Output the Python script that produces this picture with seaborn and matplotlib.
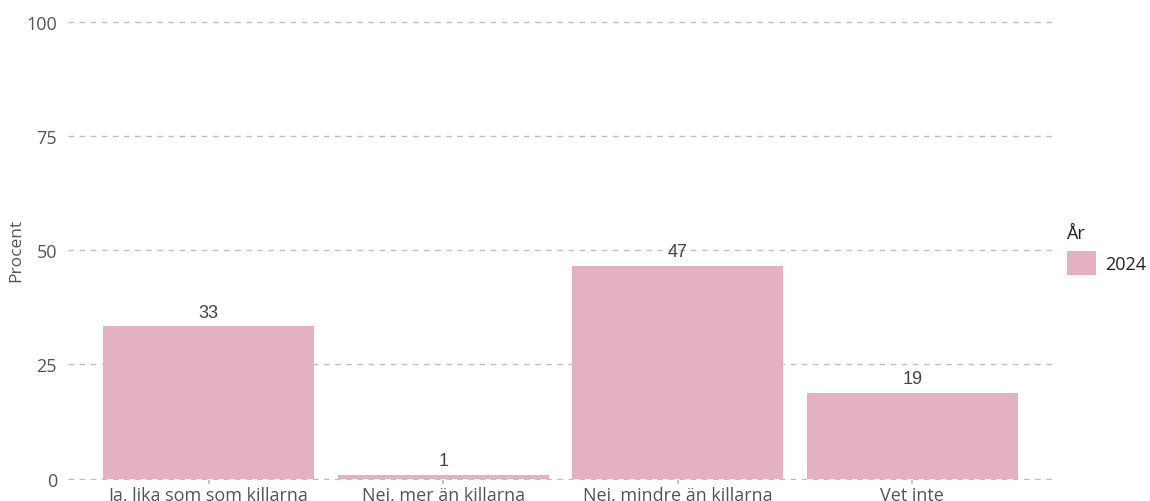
import matplotlib
matplotlib.use("Agg")
import matplotlib.pyplot as plt
import seaborn as sns
import pandas as pd

# Data
categories = ["Ja, lika som som killarna", "Nej, mer än killarna",
              "Nej, mindre än killarna", "Vet inte"]
values = [33.3, 0.9, 46.6, 18.8]
labels = ["33", "1", "47", "19"]
years = ["2024", "2024", "2024", "2024"]
y_ticks = [0, 25, 50, 75, 100]

bar_color = "#E3B1C1"
tick_color = "#555555"

sns.set_theme(style="white")
plt.rcParams["font.family"] = ["Open Sans", "DejaVu Sans"]

df = pd.DataFrame({"Svar": categories, "Procent": values, "År": years})

fig = plt.figure(figsize=(11.5, 5.02), dpi=100)
ax = fig.add_axes([68 / 1150, 21 / 502, (1053 - 68) / 1150, 461 / 502])

sns.barplot(data=df, x="Svar", y="Procent", hue="År", palette=[bar_color],
            width=0.9, saturation=1, linewidth=0, ax=ax)

for patch, lab in zip(ax.patches, labels):
    ax.text(patch.get_x() + patch.get_width() / 2, patch.get_height() + 1.2, lab,
            ha="center", va="bottom", fontsize=13, color="#444444",
            family=["Liberation Sans", "DejaVu Sans"])

ax.set_xlim(-0.6, 3.6)
ax.set_ylim(-0.3, 100.6)
ax.set_yticks(y_ticks)
ax.yaxis.grid(True, linestyle=(0, (4, 4)), color="#BDBDBD", linewidth=1)
ax.set_axisbelow(True)
for s in ax.spines.values():
    s.set_visible(False)

ax.tick_params(axis="y", length=6, color="#BDBDBD", labelsize=13,
               labelcolor=tick_color, pad=2)
ax.tick_params(axis="x", length=3, color="#BDBDBD", labelsize=13,
               labelcolor=tick_color, pad=1, bottom=True)
ax.set_xlabel("")
ax.set_ylabel("Procent", fontsize=12.5, color=tick_color, labelpad=1)

leg = ax.legend(title="År", loc="center left", bbox_to_anchor=(1.0, 0.5),
                frameon=False, fontsize=13, title_fontsize=13,
                handlelength=1.6, handleheight=1.6, handletextpad=0.5,
                borderpad=0.3, alignment="left")
for t in leg.get_texts():
    t.set_color("#222222")
leg.get_title().set_color("#222222")

fig.savefig("out.png", dpi=100)
